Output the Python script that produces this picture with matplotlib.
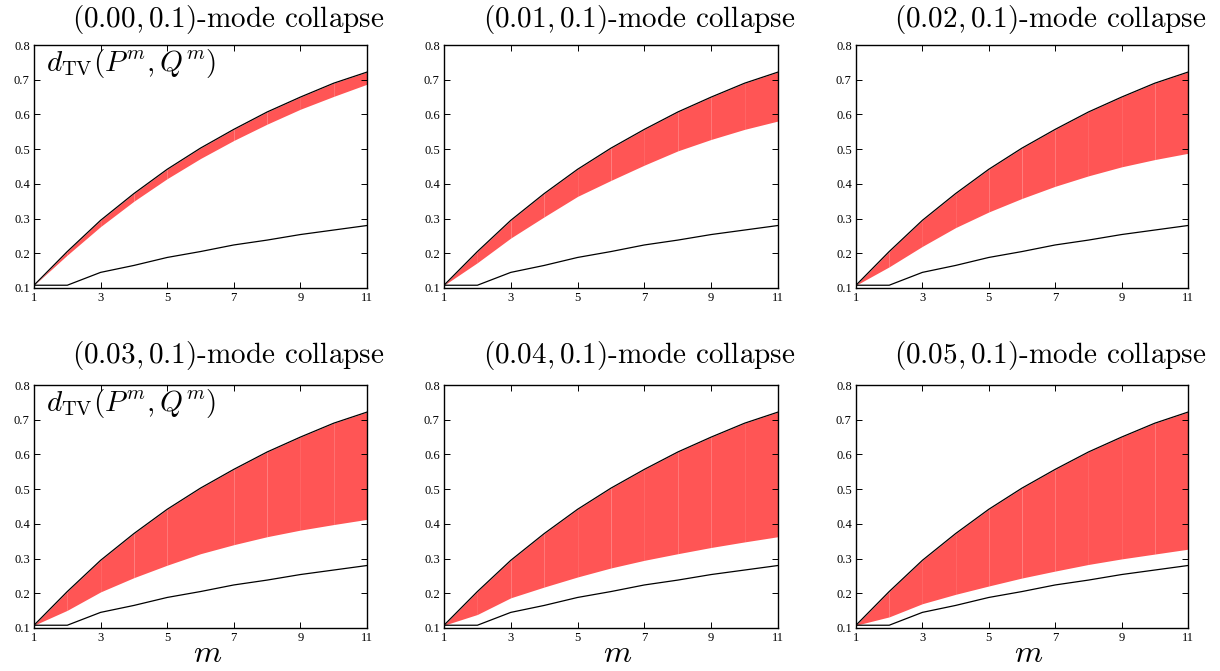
import matplotlib
matplotlib.use("Agg")
import matplotlib.pyplot as plt

# data
m_values = [1, 2, 3, 4, 5, 6, 7, 8, 9, 10, 11]
eps_labels = ["0.00", "0.01", "0.02", "0.03", "0.04", "0.05"]

upper_bound = [0.108, 0.205, 0.295, 0.372, 0.442, 0.503, 0.557, 0.607, 0.650, 0.690, 0.722]
base_line = [0.108, 0.108, 0.145, 0.165, 0.188, 0.205, 0.224, 0.238, 0.254, 0.267, 0.280]

lower_00 = [0.108, 0.195, 0.277, 0.350, 0.415, 0.473, 0.525, 0.572, 0.615, 0.652, 0.687]
lower_01 = [0.108, 0.173, 0.244, 0.305, 0.364, 0.410, 0.454, 0.495, 0.528, 0.557, 0.581]
lower_02 = [0.108, 0.161, 0.220, 0.274, 0.319, 0.358, 0.393, 0.423, 0.449, 0.470, 0.488]
lower_03 = [0.108, 0.151, 0.204, 0.245, 0.281, 0.314, 0.340, 0.363, 0.382, 0.398, 0.413]
lower_04 = [0.108, 0.139, 0.187, 0.218, 0.247, 0.273, 0.295, 0.314, 0.332, 0.348, 0.363]
lower_05 = [0.108, 0.132, 0.170, 0.197, 0.221, 0.244, 0.264, 0.283, 0.299, 0.313, 0.327]
lower_bounds = [lower_00, lower_01, lower_02, lower_03, lower_04, lower_05]

plt.rcParams['mathtext.fontset'] = 'cm'
plt.rcParams['axes.formatter.use_mathtext'] = True

fig = plt.figure(figsize=(12.2, 6.71), dpi=100)

# axes boxes in pixels (left, right), (top, bottom)
col_x = [(34, 367), (444, 778), (856, 1188)]
row_y = [(45, 288), (385, 628)]
title_gap = [18, 22]  # px between title baseline and axes top
W, H = 1220.0, 671.0

band_color = '#ff5555'
tick_font = {'family': 'Liberation Serif', 'size': 9}

for i in range(6):
    r, c = divmod(i, 3)
    x0, x1 = col_x[c]
    y0, y1 = row_y[r]
    h = y1 - y0
    ax = fig.add_axes([x0 / W, 1 - y1 / H, (x1 - x0) / W, h / H])

    low = lower_bounds[i]
    # one polygon per segment, like the original export
    for k in range(len(m_values) - 1):
        ax.fill_between(m_values[k:k + 2], low[k:k + 2], upper_bound[k:k + 2],
                        color=band_color, linewidth=0)
    ax.plot(m_values, upper_bound, color='black', lw=0.9)
    ax.plot(m_values, base_line, color='black', lw=0.9)

    ax.set_xlim(1, 11)
    ax.set_ylim(0.1, 0.8)
    ax.set_xticks([1, 3, 5, 7, 9, 11])
    ax.set_yticks([0.1, 0.2, 0.3, 0.4, 0.5, 0.6, 0.7, 0.8])
    ax.set_xticklabels(['1', '3', '5', '7', '9', '11'], fontdict=tick_font)
    ax.set_yticklabels(['0.1', '0.2', '0.3', '0.4', '0.5', '0.6', '0.7', '0.8'], fontdict=tick_font)
    ax.tick_params(direction='in', top=True, right=True, length=4, width=0.7, pad=3)
    for s in ax.spines.values():
        s.set_linewidth(1.0)

    ax.text(0.584, 1 + title_gap[r] / h, r"$(%s, 0.1)$" % eps_labels[i] + "-mode collapse",
            transform=ax.transAxes, ha='center', va='baseline',
            fontsize=21, family='cmr10')

    if c == 0:
        ax.text(0.035, 0.99, r"$d_{\mathrm{TV}}(P^m, Q^m)$", transform=ax.transAxes,
                ha='left', va='top', fontsize=21)
    if r == 1:
        ax.text(0.52, -34 / h, r"$m$", transform=ax.transAxes,
                ha='center', va='baseline', fontsize=23)

fig.savefig("out.png", dpi=100)
